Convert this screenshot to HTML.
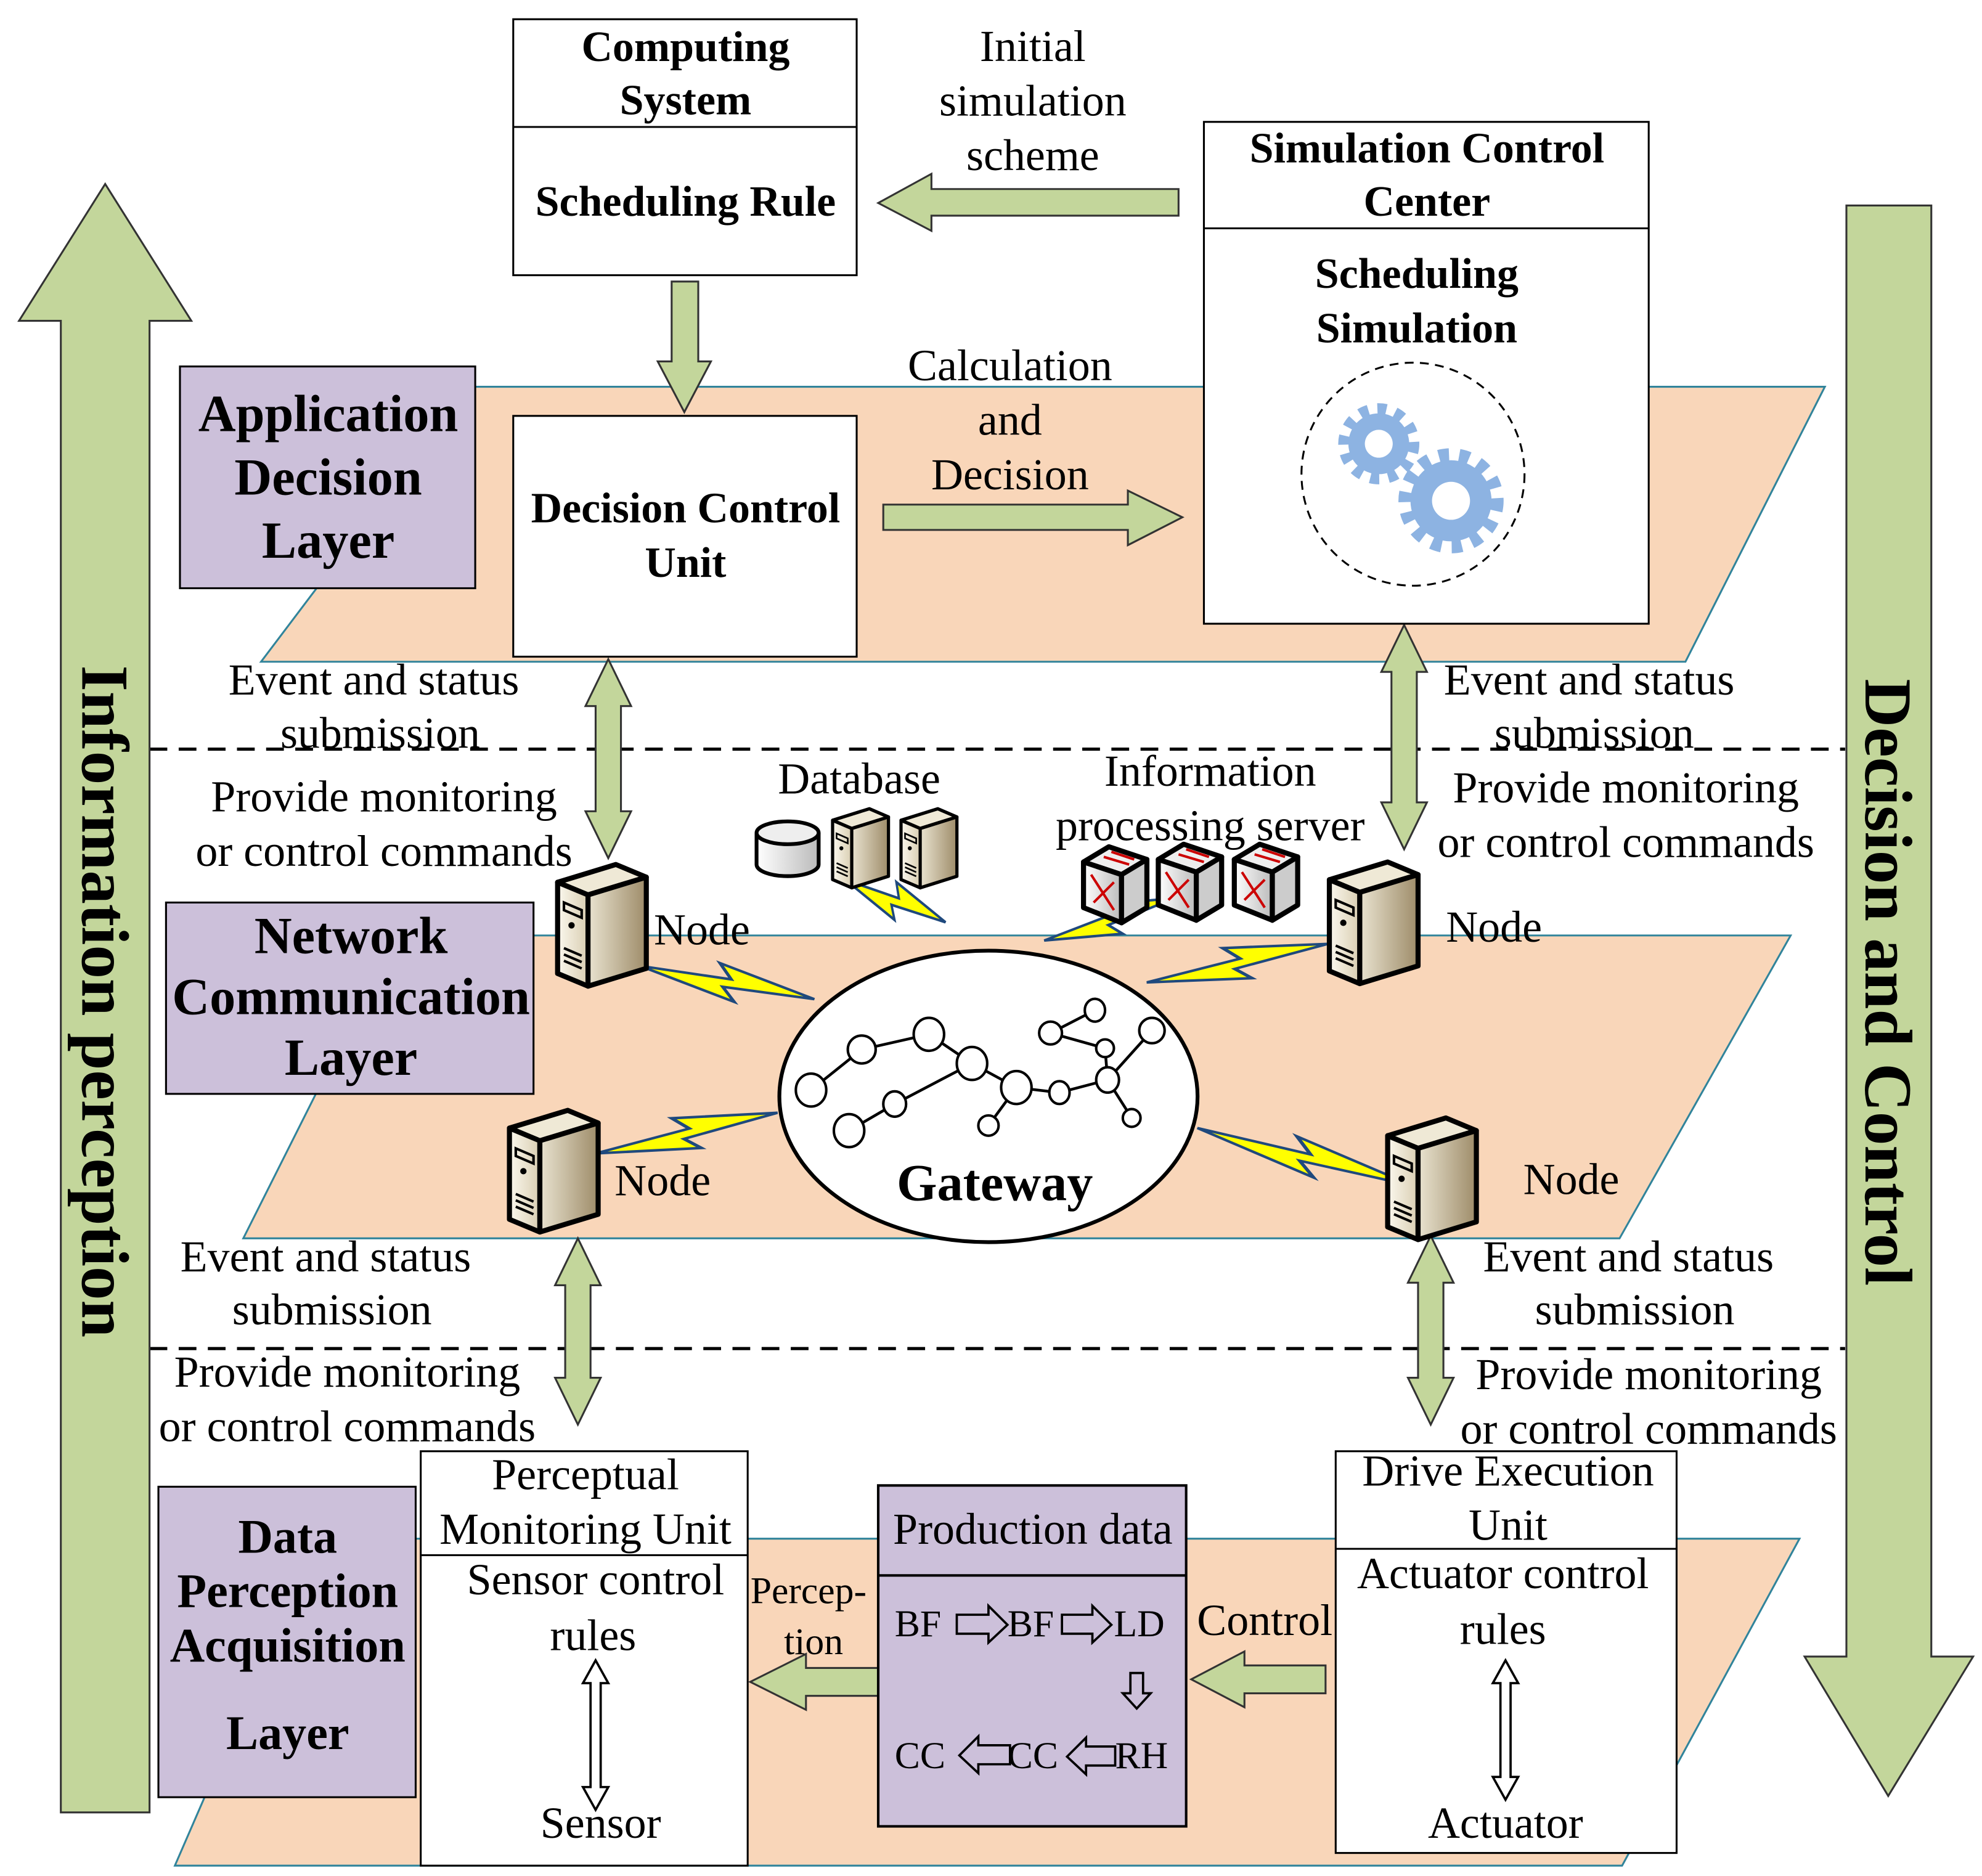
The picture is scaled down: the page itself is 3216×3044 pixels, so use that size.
<!DOCTYPE html>
<html><head><meta charset="utf-8"><style>
html,body{margin:0;padding:0;background:#fff}
svg{display:block}
text{font-family:"Liberation Serif",serif;fill:#000}
.b{font-weight:bold}
</style></head><body>
<svg width="3216" height="3044" viewBox="0 0 1564 1480" xmlns="http://www.w3.org/2000/svg">
<defs>
<linearGradient id="sv" x1="0" x2="1"><stop offset="0" stop-color="#fbf8ee"/><stop offset="1" stop-color="#d9ceb2"/></linearGradient>
<linearGradient id="sd" x1="0" x2="1"><stop offset="0" stop-color="#e9e3d0"/><stop offset="1" stop-color="#9e8c69"/></linearGradient>
<linearGradient id="gy" x1="0" x2="1"><stop offset="0" stop-color="#fff"/><stop offset="1" stop-color="#bbb"/></linearGradient>
<g id="srv">
<polygon points="0,14 46,0 70,10 24,24" fill="#efe9d6" stroke="#000" stroke-width="4" stroke-linejoin="round"/>
<polygon points="0,14 24,24 24,96 0,86" fill="url(#sv)" stroke="#000" stroke-width="4" stroke-linejoin="round"/>
<polygon points="24,24 70,10 70,82 24,96" fill="url(#sd)" stroke="#000" stroke-width="4" stroke-linejoin="round"/>
<line x1="5" y1="66" x2="19" y2="72" stroke="#000" stroke-width="2"/>
<line x1="5" y1="71" x2="19" y2="77" stroke="#000" stroke-width="2"/>
<line x1="5" y1="76" x2="19" y2="82" stroke="#000" stroke-width="2"/>
<circle cx="11" cy="48" r="2.5" fill="#000"/>
<path d="M5 30 L19 36 L19 42 L5 36Z" fill="none" stroke="#000" stroke-width="2"/>
</g>
<g id="bolt"><polygon points="0,0 52,-3 44,-14 100,0 48,4 56,14" fill="#ffff00" stroke="#1f497d" stroke-width="2" stroke-linejoin="miter"/></g>
<g id="sw">
<polygon points="0,12 20,0 50,10 30,22" fill="#eee" stroke="#000" stroke-width="4" stroke-linejoin="round"/>
<polygon points="0,12 30,22 30,60 0,48" fill="url(#gy)" stroke="#000" stroke-width="4" stroke-linejoin="round"/>
<polygon points="30,22 50,10 50,48 30,60" fill="#ccc" stroke="#000" stroke-width="4" stroke-linejoin="round"/>
<path d="M6 22 L24 50 M8 44 L24 28 M16 8 L36 14 M22 4 L40 10" stroke="#c00" stroke-width="2" fill="none"/>
</g>
</defs>

<polygon points="370,305 1440,305 1330,522 206,522" fill="#f9d6b9" stroke="#31849b" stroke-width="1.5"/>
<polygon points="312,738 1413,738 1278,977 192,977" fill="#f9d6b9" stroke="#31849b" stroke-width="1.5"/>
<polygon points="250,1214 1420,1214 1280,1472 138,1472" fill="#f9d6b9" stroke="#31849b" stroke-width="1.5"/>

<line x1="118" y1="591" x2="1456" y2="591" stroke="#000" stroke-width="2.5" stroke-dasharray="14,9"/>
<line x1="118" y1="1064" x2="1456" y2="1064" stroke="#000" stroke-width="2.5" stroke-dasharray="14,9"/>

<polygon points="48,1430 48,253 15,253 83,145 151,253 118,253 118,1430" fill="#c3d69b" stroke="#333" stroke-width="1.5"/>
<text class="b" font-size="53" transform="translate(65,790) rotate(90)" text-anchor="middle">Information perception</text>
<polygon points="1457,162 1524,162 1524,1307 1557,1307 1490,1417 1424,1307 1457,1307" fill="#c3d69b" stroke="#333" stroke-width="1.5"/>
<text class="b" font-size="53" transform="translate(1472,775) rotate(90)" text-anchor="middle">Decision and Control</text>

<g fill="#c3d69b" stroke="#333" stroke-width="1.5">
<polygon points="930,149 735,149 735,137 693,160 735,182 735,170 930,170"/>
<polygon points="530,222 551,222 551,285 561,285 540,325 519,285 530,285"/>
<polygon points="697,398 890,398 890,387 933,408 890,430 890,418 697,418"/>
<polygon points="470,557 462,557 480,520 498,557 490,557 490,640 498,640 480,677 462,640 470,640"/>
<polygon points="1098,530 1090,530 1108,493 1126,530 1118,530 1118,633 1126,633 1108,670 1090,633 1098,633"/>
<polygon points="446,1014 438,1014 456,977 474,1014 466,1014 466,1087 474,1087 456,1124 438,1087 446,1087"/>
<polygon points="1119,1012 1111,1012 1129,975 1147,1012 1139,1012 1139,1087 1147,1087 1129,1124 1111,1087 1119,1087"/>
<polygon points="693,1316 636,1316 636,1305 592,1327 636,1349 636,1338 693,1338"/>
<polygon points="1046,1314 982,1314 982,1303 940,1325 982,1347 982,1336 1046,1336"/>
</g>

<g fill="#ccc0da" stroke="#000" stroke-width="1.5">
<rect x="142" y="289" width="233" height="175"/>
<rect x="131" y="712" width="290" height="151"/>
<rect x="125" y="1173" width="203" height="245"/>
</g>
<g font-size="41" text-anchor="middle">
<text x="259" y="340" class="b">Application</text>
<text x="259" y="390" class="b">Decision</text>
<text x="259" y="440" class="b">Layer</text>
<text x="277" y="752" class="b">Network</text>
<text x="277" y="800" class="b">Communication</text>
<text x="277" y="848" class="b">Layer</text>
<text x="227" y="1225" class="b" font-size="38">Data</text>
<text x="227" y="1268" class="b" font-size="38">Perception</text>
<text x="227" y="1311" class="b" font-size="38">Acquisition</text>
<text x="227" y="1380" class="b" font-size="38">Layer</text>
</g>

<g fill="#fff" stroke="#000" stroke-width="1.5">
<rect x="405" y="15" width="271" height="202"/>
<line x1="405" y1="100" x2="676" y2="100"/>
<rect x="950" y="96" width="351" height="396"/>
<line x1="950" y1="180" x2="1301" y2="180"/>
<rect x="405" y="328" width="271" height="190"/>
</g>
<g font-size="34" text-anchor="middle">
<text x="541" y="48" class="b">Computing</text>
<text x="541" y="90" class="b">System</text>
<text x="541" y="170" class="b">Scheduling Rule</text>
<text x="1126" y="128" class="b">Simulation Control</text>
<text x="1126" y="170" class="b">Center</text>
<text x="1118" y="227" class="b">Scheduling</text>
<text x="1118" y="270" class="b">Simulation</text>
<text x="541" y="412" class="b">Decision Control</text>
<text x="541" y="455" class="b">Unit</text>
</g>
<circle cx="1115" cy="374" r="88" fill="none" stroke="#000" stroke-width="1.5" stroke-dasharray="7,5"/>
<g>
<circle cx="1088" cy="350" r="27" fill="none" stroke="#8db3e2" stroke-width="10" stroke-dasharray="7,7"/>
<circle cx="1088" cy="350" r="24" fill="#8db3e2"/>
<circle cx="1088" cy="350" r="11" fill="#fff"/>
<circle cx="1145" cy="395" r="36" fill="none" stroke="#8db3e2" stroke-width="11" stroke-dasharray="8,8"/>
<circle cx="1145" cy="395" r="32" fill="#8db3e2"/>
<circle cx="1145" cy="395" r="15" fill="#fff"/>
</g>

<g fill="#fff" stroke="#000" stroke-width="1.5">
<rect x="332" y="1145" width="258" height="327"/>
<line x1="332" y1="1227" x2="590" y2="1227"/>
<rect x="1054" y="1145" width="269" height="317"/>
<line x1="1054" y1="1222" x2="1323" y2="1222"/>
</g>
<rect x="693" y="1172" width="243" height="269" fill="#ccc0da" stroke="#000" stroke-width="2"/>
<line x1="693" y1="1243" x2="936" y2="1243" stroke="#000" stroke-width="2"/>
<g font-size="35" text-anchor="middle">
<text x="462" y="1175">Perceptual</text>
<text x="462" y="1218">Monitoring Unit</text>
<text x="470" y="1258">Sensor control</text>
<text x="468" y="1302">rules</text>
<text x="474" y="1450">Sensor</text>
<text x="1190" y="1172">Drive Execution</text>
<text x="1190" y="1215">Unit</text>
<text x="1186" y="1253">Actuator control</text>
<text x="1186" y="1297">rules</text>
<text x="1188" y="1450">Actuator</text>
<text x="815" y="1218" font-size="35">Production data</text>
<text x="998" y="1290">Control</text>
</g>
<g font-size="30" text-anchor="middle"><text x="638" y="1265">Percep-</text><text x="642" y="1305">tion</text></g>
<g font-size="30">
<text x="706" y="1291">BF</text><text x="795" y="1291">BF</text><text x="879" y="1291">LD</text>
<text x="706" y="1395">CC</text><text x="795" y="1395">CC</text><text x="880" y="1395">RH</text>
</g>
<g fill="none" stroke="#000" stroke-width="1.8">
<polygon points="755,1274 780,1274 780,1267 795,1282 780,1296 780,1289 755,1289"/>
<polygon points="838,1274 862,1274 862,1267 877,1282 862,1296 862,1289 838,1289"/>
<polygon points="892,1320 902,1320 902,1336 908,1336 897,1348 886,1336 892,1336"/>
<polygon points="797,1377 772,1377 772,1370 757,1385 772,1399 772,1392 797,1392"/>
<polygon points="880,1378 857,1378 857,1371 842,1386 857,1400 857,1393 880,1393"/>
<polygon points="466,1328 460,1328 470,1310 480,1328 474,1328 474,1410 480,1410 470,1428 460,1410 466,1410"/>
<polygon points="1184,1328 1178,1328 1188,1310 1198,1328 1192,1328 1192,1402 1198,1402 1188,1420 1178,1402 1184,1402"/>
</g>

<g font-size="35" text-anchor="middle">
<text x="815" y="48">Initial</text><text x="815" y="91">simulation</text><text x="815" y="134">scheme</text>
<text x="797" y="300">Calculation</text><text x="797" y="343">and</text><text x="797" y="386">Decision</text>
<text x="295" y="548">Event and status</text><text x="300" y="590">submission</text>
<text x="303" y="640">Provide monitoring</text><text x="303" y="683">or control commands</text>
<text x="1254" y="548">Event and status</text><text x="1258" y="590">submission</text>
<text x="1283" y="633">Provide monitoring</text><text x="1283" y="676">or control commands</text>
<text x="257" y="1003">Event and status</text><text x="262" y="1045">submission</text>
<text x="274" y="1094">Provide monitoring</text><text x="274" y="1137">or control commands</text>
<text x="1285" y="1003">Event and status</text><text x="1290" y="1045">submission</text>
<text x="1301" y="1096">Provide monitoring</text><text x="1301" y="1139">or control commands</text>
<text x="678" y="626">Database</text>
<text x="955" y="620">Information</text><text x="955" y="663">processing server</text>
</g>
<g font-size="35">
<text x="516" y="745">Node</text><text x="1141" y="743">Node</text>
<text x="485" y="943">Node</text><text x="1202" y="942">Node</text>
</g>

<use href="#bolt" transform="translate(505,762) rotate(10.8) scale(1.4,1)"/>
<use href="#bolt" transform="translate(667,694) rotate(23) scale(0.86,1)"/>
<use href="#bolt" transform="translate(824,742) rotate(-18) scale(1.08,1)"/>
<use href="#bolt" transform="translate(905,775) rotate(-12) scale(1.46,1)"/>
<use href="#bolt" transform="translate(470,910) rotate(-12.6) scale(1.47,1)"/>
<use href="#bolt" transform="translate(945,890) rotate(15) scale(1.76,1)"/>

<ellipse cx="780" cy="865" rx="165" ry="115" fill="#fff" stroke="#000" stroke-width="3"/>
<g stroke="#000" stroke-width="2.2">
<line x1="640" y1="860" x2="680" y2="828"/><line x1="680" y1="828" x2="733" y2="816"/>
<line x1="733" y1="816" x2="767" y2="839"/><line x1="767" y1="839" x2="802" y2="858"/>
<line x1="802" y1="858" x2="836" y2="862"/><line x1="836" y1="862" x2="874" y2="852"/>
<line x1="874" y1="852" x2="909" y2="813"/><line x1="874" y1="852" x2="893" y2="882"/>
<line x1="874" y1="852" x2="872" y2="827"/><line x1="872" y1="827" x2="829" y2="815"/>
<line x1="829" y1="815" x2="864" y2="797"/><line x1="802" y1="858" x2="780" y2="888"/>
<line x1="767" y1="839" x2="706" y2="871"/><line x1="706" y1="871" x2="670" y2="892"/>
</g>
<g fill="#fff" stroke="#000" stroke-width="2">
<ellipse cx="640" cy="860" rx="12" ry="13"/><ellipse cx="680" cy="828" rx="11" ry="11"/>
<ellipse cx="733" cy="816" rx="12" ry="13"/><ellipse cx="767" cy="839" rx="12" ry="13"/>
<ellipse cx="802" cy="858" rx="12" ry="13"/><ellipse cx="836" cy="862" rx="8" ry="9"/>
<ellipse cx="874" cy="852" rx="9" ry="10"/><ellipse cx="909" cy="813" rx="10" ry="10"/>
<ellipse cx="893" cy="882" rx="7" ry="7"/><ellipse cx="872" cy="827" rx="7" ry="7"/>
<ellipse cx="829" cy="815" rx="9" ry="9"/><ellipse cx="864" cy="797" rx="8" ry="9"/>
<ellipse cx="780" cy="888" rx="8" ry="8"/><ellipse cx="706" cy="871" rx="9" ry="10"/>
<ellipse cx="670" cy="892" rx="12" ry="13"/>
</g>
<text x="785" y="947" font-size="41" text-anchor="middle" class="b">Gateway</text>

<use href="#srv" transform="translate(440,682)"/>
<use href="#srv" transform="translate(1049,680)"/>
<use href="#srv" transform="translate(402,876)"/>
<use href="#srv" transform="translate(1095,882)"/>
<use href="#srv" transform="translate(657,638) scale(0.63,0.65)"/>
<use href="#srv" transform="translate(711,638) scale(0.63,0.65)"/>
<g>
<path d="M597 657 L597 682 A24 9 0 0 0 646 682 L646 657" fill="url(#gy)" stroke="#000" stroke-width="3"/>
<ellipse cx="621.5" cy="657" rx="24.5" ry="9" fill="#eee" stroke="#000" stroke-width="3"/>
</g>
<use href="#sw" transform="translate(855,668)"/>
<use href="#sw" transform="translate(914,666)"/>
<use href="#sw" transform="translate(974,666)"/>
</svg>
</body></html>
